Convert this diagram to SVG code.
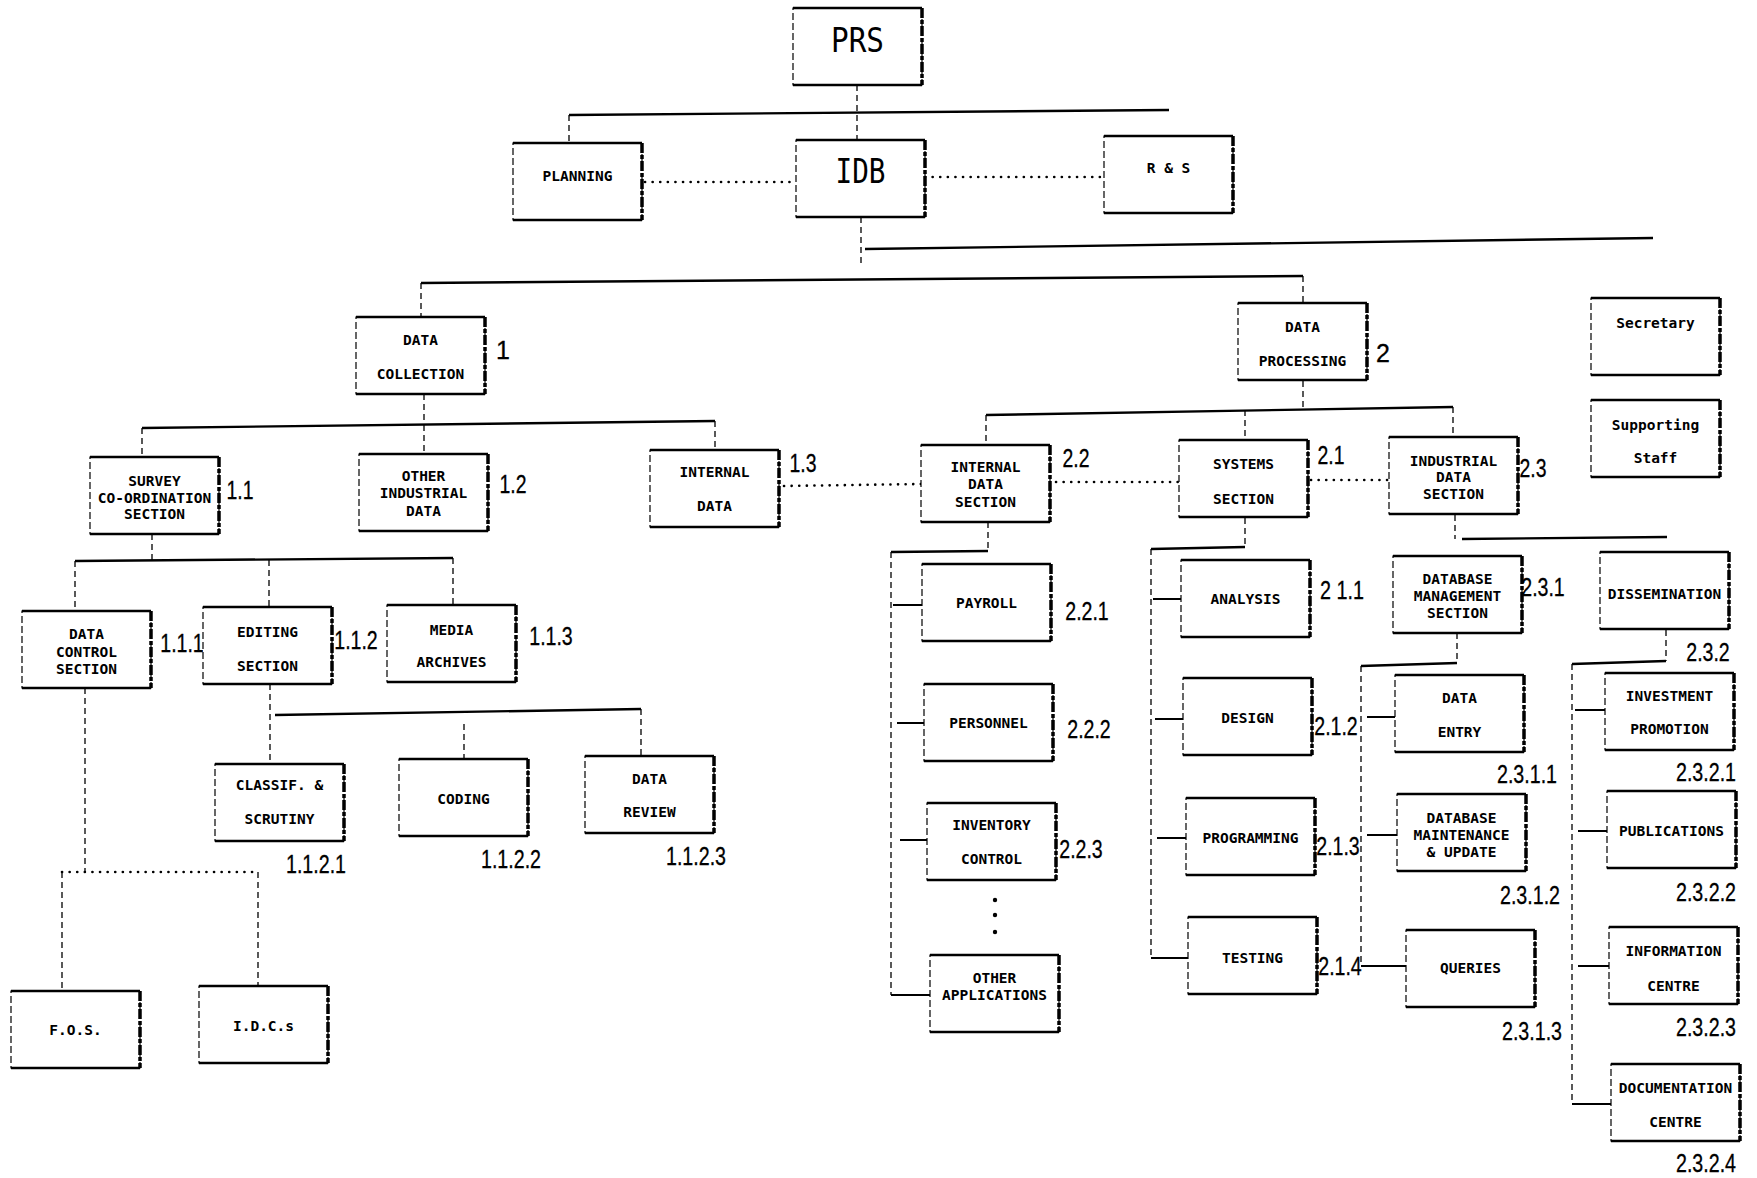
<svg xmlns="http://www.w3.org/2000/svg" xmlns:xlink="http://www.w3.org/1999/xlink" width="1757" height="1178" viewBox="0 0 1757 1178">
<style>
.h{stroke:#000;stroke-width:2.4;fill:none}
.t{stroke:#000;stroke-width:2;fill:none}
.v{stroke:#000;stroke-width:1.3;stroke-dasharray:6 4;fill:none}
.d{stroke:#000;stroke-width:2.6;stroke-dasharray:0.1 7.5;stroke-linecap:round;fill:none}
.n{font-family:"DejaVu Sans Mono","Liberation Mono",monospace;font-weight:bold;font-size:14.5px;text-anchor:middle;fill:#000}
.big{font-family:"DejaVu Sans Mono","Liberation Mono",monospace;font-size:33px;text-anchor:middle;fill:#000}
.l{font-family:"Liberation Sans",Arial,sans-serif;font-size:25px;text-anchor:middle;fill:#000;stroke:#000;stroke-width:0.3}
</style>
<defs>
<g id="box">
<rect width="129" height="77" fill="#fff" stroke="#000" stroke-width="1.2" stroke-dasharray="7 3"/>
<path d="M0 0 H129 M0 77 H129" stroke="#000" stroke-width="2.6" fill="none"/>
<path d="M129 0 V77" stroke="#000" stroke-width="3.5" stroke-dasharray="10 2 4 2" fill="none"/>
</g>
</defs>
<rect width="1757" height="1178" fill="#fff"/>
<g id="connectors">
<path class="h" d="M569 115 L1169 110"/>
<path class="h" d="M865 249 L1653 238"/>
<path class="h" d="M421 283 L1303 276"/>
<path class="h" d="M142 428 L715 421"/>
<path class="h" d="M75 561 L453 558"/>
<path class="h" d="M275 715 L641 709"/>
<path class="h" d="M986 415 L1453 407"/>
<path class="h" d="M1462 539 L1667 537"/>
<path class="h" d="M891 552 L988 551"/>
<path class="h" d="M1151 549 L1245 547"/>
<path class="h" d="M1361 666 L1457 663"/>
<path class="h" d="M1572 664 L1666 661"/>
<path class="t" d="M893 605 H922 M897 723 H924 M900 840 H927 M891 995 H930"/>
<path class="t" d="M1153 599 H1181 M1155 719 H1183 M1157 838 H1186 M1151 958 H1188"/>
<path class="t" d="M1367 717 H1395 M1367 835 H1397 M1361 966 H1406"/>
<path class="t" d="M1575 710 H1605 M1578 831 H1607 M1578 966 H1609 M1572 1104 H1611"/>
<path class="v" d="M857 85 V140"/>
<path class="v" d="M569 115 V143"/>
<path class="v" d="M861 217 V267"/>
<path class="v" d="M421 283 V317"/>
<path class="v" d="M1303 276 V303"/>
<path class="v" d="M424 394 V424"/>
<path class="v" d="M142 428 V457"/>
<path class="v" d="M424 425 V454"/>
<path class="v" d="M715 421 V450"/>
<path class="v" d="M152 534 V560"/>
<path class="v" d="M75 561 V611"/>
<path class="v" d="M269 560 V607"/>
<path class="v" d="M453 558 V605"/>
<path class="v" d="M270 684 V764"/>
<path class="v" d="M464 724 V759"/>
<path class="v" d="M641 709 V756"/>
<path class="v" d="M85 688 V872"/>
<path class="v" d="M62 872 V991"/>
<path class="v" d="M258 872 V986"/>
<path class="v" d="M1303 381 V410"/>
<path class="v" d="M986 415 V445"/>
<path class="v" d="M1245 410 V440"/>
<path class="v" d="M1453 407 V437"/>
<path class="v" d="M988 522 V551"/>
<path class="v" d="M891 552 V995"/>
<path class="v" d="M1245 518 V547"/>
<path class="v" d="M1151 549 V958"/>
<path class="v" d="M1455 515 V539"/>
<path class="v" d="M1457 633 V663"/>
<path class="v" d="M1361 666 V966"/>
<path class="v" d="M1666 630 V661"/>
<path class="v" d="M1572 664 V1104"/>
<path class="d" d="M645 182 H796"/>
<path class="d" d="M925 177 H1104"/>
<path class="d" d="M784 486 L921 484"/>
<path class="d" d="M1056 482 H1179"/>
<path class="d" d="M1311 480 H1389"/>
<path class="d" d="M62 872 H258"/>
<circle cx="995" cy="900" r="2.2"/>
<circle cx="995" cy="915" r="2.2"/>
<circle cx="995" cy="932" r="2.2"/>
</g>
<g id="prs"><use xlink:href="#box" x="793" y="8"/><text class="big" x="857.5" y="52" textLength="53" lengthAdjust="spacingAndGlyphs">PRS</text></g>
<g id="planning"><use xlink:href="#box" x="513" y="143"/><text class="n" x="577.5" y="181">PLANNING</text></g>
<g id="idb"><use xlink:href="#box" x="796" y="140"/><text class="big" x="860.5" y="183" textLength="50" lengthAdjust="spacingAndGlyphs">IDB</text></g>
<g id="rs"><use xlink:href="#box" x="1104" y="136"/><text class="n" x="1168.5" y="173">R &amp; S</text></g>
<g id="data-collection"><use xlink:href="#box" x="356" y="317"/><text class="n" x="420.5" y="345">DATA</text><text class="n" x="420.5" y="379">COLLECTION</text><text class="l" x="503" y="359">1</text></g>
<g id="data-processing"><use xlink:href="#box" x="1238" y="303"/><text class="n" x="1302.5" y="332">DATA</text><text class="n" x="1302.5" y="366">PROCESSING</text><text class="l" x="1383" y="362">2</text></g>
<g id="secretary"><use xlink:href="#box" x="1591" y="298"/><text class="n" x="1655.5" y="328">Secretary</text></g>
<g id="supporting-staff"><use xlink:href="#box" x="1591" y="400"/><text class="n" x="1655.5" y="430">Supporting</text><text class="n" x="1655.5" y="463">Staff</text></g>
<g id="survey"><use xlink:href="#box" x="90" y="457"/><text class="n" x="154.5" y="486">SURVEY</text><text class="n" x="154.5" y="502.5">CO-ORDINATION</text><text class="n" x="154.5" y="519">SECTION</text><text class="l" x="240" y="499" textLength="27" lengthAdjust="spacingAndGlyphs">1.1</text></g>
<g id="other-industrial"><use xlink:href="#box" x="359" y="454"/><text class="n" x="423.5" y="481">OTHER</text><text class="n" x="423.5" y="498">INDUSTRIAL</text><text class="n" x="423.5" y="516">DATA</text><text class="l" x="513" y="493" textLength="27" lengthAdjust="spacingAndGlyphs">1.2</text></g>
<g id="internal-data"><use xlink:href="#box" x="650" y="450"/><text class="n" x="714.5" y="477">INTERNAL</text><text class="n" x="714.5" y="511">DATA</text><text class="l" x="803" y="472" textLength="27" lengthAdjust="spacingAndGlyphs">1.3</text></g>
<g id="data-control"><use xlink:href="#box" x="22" y="611"/><text class="n" x="86.5" y="639">DATA</text><text class="n" x="86.5" y="657">CONTROL</text><text class="n" x="86.5" y="674">SECTION</text><text class="l" x="182" y="652" textLength="43.5" lengthAdjust="spacingAndGlyphs">1.1.1</text></g>
<g id="editing"><use xlink:href="#box" x="203" y="607"/><text class="n" x="267.5" y="637">EDITING</text><text class="n" x="267.5" y="671">SECTION</text><text class="l" x="356" y="649" textLength="43.5" lengthAdjust="spacingAndGlyphs">1.1.2</text></g>
<g id="media"><use xlink:href="#box" x="387" y="605"/><text class="n" x="451.5" y="635">MEDIA</text><text class="n" x="451.5" y="667">ARCHIVES</text><text class="l" x="551" y="645" textLength="43.5" lengthAdjust="spacingAndGlyphs">1.1.3</text></g>
<g id="classif"><use xlink:href="#box" x="215" y="764"/><text class="n" x="279.5" y="790">CLASSIF. &amp;</text><text class="n" x="279.5" y="824">SCRUTINY</text><text class="l" x="316" y="873" textLength="60" lengthAdjust="spacingAndGlyphs">1.1.2.1</text></g>
<g id="coding"><use xlink:href="#box" x="399" y="759"/><text class="n" x="463.5" y="804">CODING</text><text class="l" x="511" y="868" textLength="60" lengthAdjust="spacingAndGlyphs">1.1.2.2</text></g>
<g id="data-review"><use xlink:href="#box" x="585" y="756"/><text class="n" x="649.5" y="784">DATA</text><text class="n" x="649.5" y="817">REVIEW</text><text class="l" x="696" y="865" textLength="60" lengthAdjust="spacingAndGlyphs">1.1.2.3</text></g>
<g id="fos"><use xlink:href="#box" x="11" y="991"/><text class="n" x="75.5" y="1035">F.O.S.</text></g>
<g id="idcs"><use xlink:href="#box" x="199" y="986"/><text class="n" x="263.5" y="1031">I.D.C.s</text></g>
<g id="internal-data-section"><use xlink:href="#box" x="921" y="445"/><text class="n" x="985.5" y="472">INTERNAL</text><text class="n" x="985.5" y="489">DATA</text><text class="n" x="985.5" y="507">SECTION</text><text class="l" x="1076" y="467" textLength="27" lengthAdjust="spacingAndGlyphs">2.2</text></g>
<g id="systems"><use xlink:href="#box" x="1179" y="440"/><text class="n" x="1243.5" y="469">SYSTEMS</text><text class="n" x="1243.5" y="504">SECTION</text><text class="l" x="1331" y="464" textLength="27" lengthAdjust="spacingAndGlyphs">2.1</text></g>
<g id="industrial"><use xlink:href="#box" x="1389" y="437"/><text class="n" x="1453.5" y="466">INDUSTRIAL</text><text class="n" x="1453.5" y="482">DATA</text><text class="n" x="1453.5" y="499">SECTION</text><text class="l" x="1533" y="477" textLength="27" lengthAdjust="spacingAndGlyphs">2.3</text></g>
<g id="payroll"><use xlink:href="#box" x="922" y="564"/><text class="n" x="986.5" y="608">PAYROLL</text><text class="l" x="1087" y="620" textLength="43.5" lengthAdjust="spacingAndGlyphs">2.2.1</text></g>
<g id="personnel"><use xlink:href="#box" x="924" y="684"/><text class="n" x="988.5" y="728">PERSONNEL</text><text class="l" x="1089" y="738" textLength="43.5" lengthAdjust="spacingAndGlyphs">2.2.2</text></g>
<g id="inventory"><use xlink:href="#box" x="927" y="803"/><text class="n" x="991.5" y="830">INVENTORY</text><text class="n" x="991.5" y="864">CONTROL</text><text class="l" x="1081" y="858" textLength="43.5" lengthAdjust="spacingAndGlyphs">2.2.3</text></g>
<g id="other-applications"><use xlink:href="#box" x="930" y="955"/><text class="n" x="994.5" y="983">OTHER</text><text class="n" x="994.5" y="1000">APPLICATIONS</text></g>
<g id="analysis"><use xlink:href="#box" x="1181" y="560"/><text class="n" x="1245.5" y="604">ANALYSIS</text><text class="l" x="1342" y="599" textLength="44" lengthAdjust="spacingAndGlyphs">2 1.1</text></g>
<g id="design"><use xlink:href="#box" x="1183" y="678"/><text class="n" x="1247.5" y="723">DESIGN</text><text class="l" x="1336" y="735" textLength="43.5" lengthAdjust="spacingAndGlyphs">2.1.2</text></g>
<g id="programming"><use xlink:href="#box" x="1186" y="798"/><text class="n" x="1250.5" y="843">PROGRAMMING</text><text class="l" x="1338" y="855" textLength="43.5" lengthAdjust="spacingAndGlyphs">2.1.3</text></g>
<g id="testing"><use xlink:href="#box" x="1188" y="917"/><text class="n" x="1252.5" y="963">TESTING</text><text class="l" x="1340" y="975" textLength="43.5" lengthAdjust="spacingAndGlyphs">2.1.4</text></g>
<g id="db-management"><use xlink:href="#box" x="1393" y="556"/><text class="n" x="1457.5" y="584">DATABASE</text><text class="n" x="1457.5" y="601">MANAGEMENT</text><text class="n" x="1457.5" y="618">SECTION</text><text class="l" x="1543" y="596" textLength="43.5" lengthAdjust="spacingAndGlyphs">2.3.1</text></g>
<g id="dissemination"><use xlink:href="#box" x="1600" y="552"/><text class="n" x="1664.5" y="599">DISSEMINATION</text><text class="l" x="1708" y="661" textLength="43.5" lengthAdjust="spacingAndGlyphs">2.3.2</text></g>
<g id="data-entry"><use xlink:href="#box" x="1395" y="675"/><text class="n" x="1459.5" y="703">DATA</text><text class="n" x="1459.5" y="737">ENTRY</text><text class="l" x="1527" y="783" textLength="60" lengthAdjust="spacingAndGlyphs">2.3.1.1</text></g>
<g id="db-maintenance"><use xlink:href="#box" x="1397" y="794"/><text class="n" x="1461.5" y="823">DATABASE</text><text class="n" x="1461.5" y="840">MAINTENANCE</text><text class="n" x="1461.5" y="857">&amp; UPDATE</text><text class="l" x="1530" y="904" textLength="60" lengthAdjust="spacingAndGlyphs">2.3.1.2</text></g>
<g id="queries"><use xlink:href="#box" x="1406" y="930"/><text class="n" x="1470.5" y="973">QUERIES</text><text class="l" x="1532" y="1040" textLength="60" lengthAdjust="spacingAndGlyphs">2.3.1.3</text></g>
<g id="investment"><use xlink:href="#box" x="1605" y="673"/><text class="n" x="1669.5" y="701">INVESTMENT</text><text class="n" x="1669.5" y="734">PROMOTION</text><text class="l" x="1706" y="781" textLength="60" lengthAdjust="spacingAndGlyphs">2.3.2.1</text></g>
<g id="publications"><use xlink:href="#box" x="1607" y="791"/><text class="n" x="1671.5" y="836">PUBLICATIONS</text><text class="l" x="1706" y="901" textLength="60" lengthAdjust="spacingAndGlyphs">2.3.2.2</text></g>
<g id="information"><use xlink:href="#box" x="1609" y="927"/><text class="n" x="1673.5" y="956">INFORMATION</text><text class="n" x="1673.5" y="991">CENTRE</text><text class="l" x="1706" y="1036" textLength="60" lengthAdjust="spacingAndGlyphs">2.3.2.3</text></g>
<g id="documentation"><use xlink:href="#box" x="1611" y="1064"/><text class="n" x="1675.5" y="1093">DOCUMENTATION</text><text class="n" x="1675.5" y="1127">CENTRE</text><text class="l" x="1706" y="1172" textLength="60" lengthAdjust="spacingAndGlyphs">2.3.2.4</text></g>
</svg>
